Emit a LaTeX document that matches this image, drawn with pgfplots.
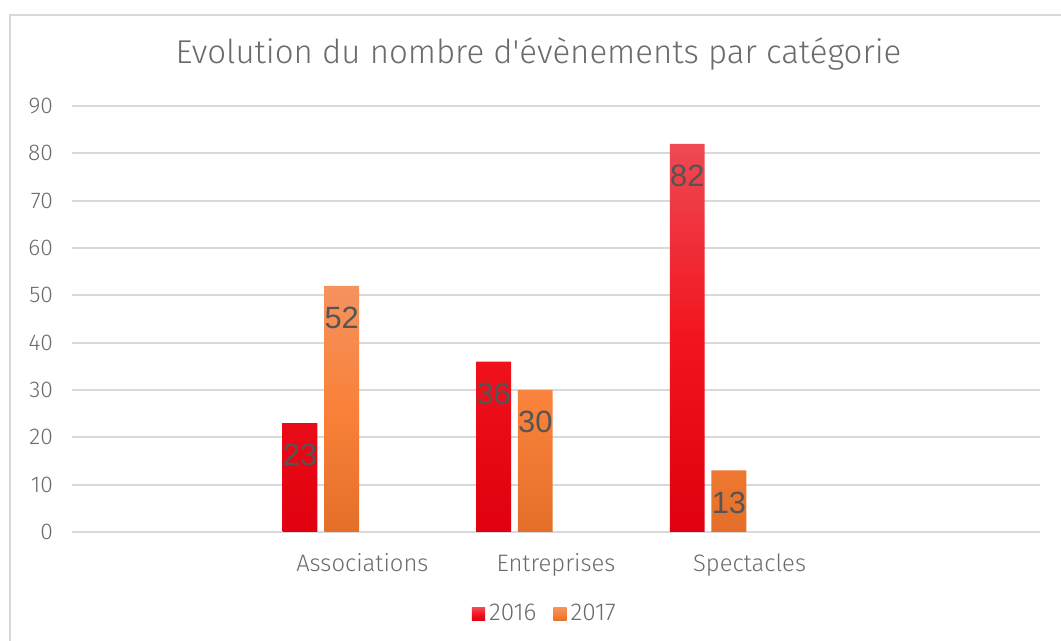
\documentclass[border=0pt]{standalone}
\usepackage{fontspec}
\setmainfont{Fira Sans Light}
\newfontfamily\labelfont{Liberation Sans}
\usepackage{pgfplots}
\pgfplotsset{compat=1.18}

\definecolor{txt}{HTML}{6B6B6B}
\definecolor{lbl}{HTML}{555555}
\definecolor{gridc}{HTML}{D9D9D9}
\definecolor{redtop}{HTML}{EE4A53}
\definecolor{redmid}{HTML}{F2141E}
\definecolor{redbot}{HTML}{E0000F}
\definecolor{ortop}{HTML}{F5925F}
\definecolor{ormid}{HTML}{F98139}
\definecolor{orbot}{HTML}{E46F2A}

\pgfplotsset{
  sq legend/.style={legend image code/.code={
    \path[##1] (0pt,-3.3pt) rectangle (6.6pt,3.3pt);}},
}

\begin{document}
\begin{tikzpicture}
\useasboundingbox (0,0) rectangle (530.5pt,320.5pt);
\draw[gridc, line width=0.8pt] (5pt,0pt) -- (5pt,313pt) -- (530.5pt,313pt);
\begin{axis}[
  at={(36pt,54.5pt)}, anchor=south west,
  scale only axis, width=484pt, height=213pt,
  ybar,
  xmin=-0.5, xmax=4.5, ymin=0, ymax=90,
  ytick={0,10,...,90},
  xtick={1,2,3}, xticklabels={Associations,Entreprises,Spectacles},
  axis line style={draw=none},
  major tick length=0pt,
  ymajorgrids, grid style={gridc, line width=1pt},
  /pgf/number format/assume math mode=true,
  tick label style={text=txt, font=\fontsize{11.4}{13}\selectfont},
  yticklabel style={xshift=-6pt},
  xticklabel style={yshift=-7.5pt, font=\fontsize{11.9}{14}\selectfont},
  title={Evolution du nombre d\textquotesingle évènements par catégorie},
  title style={at={(0.482,1.094)}, anchor=center, text=txt,
    font=\fontsize{16.5}{19}\selectfont},
  legend style={draw=none, at={(0.4895,-0.193)}, anchor=center,
    legend columns=2, font=\fontsize{12.2}{14}\selectfont, text=txt,
    /tikz/every odd column/.append style={column sep=0pt},
    /tikz/every even column/.append style={column sep=6.5pt}},
  nodes near coords,
  every node near coord/.append style={anchor=north, yshift=-7pt,
    text=lbl, font=\labelfont\fontsize{15.4}{18}\selectfont},
]
\addplot[bar width=0.18, bar shift=-0.322, draw=none,
  top color=redtop, bottom color=redbot, middle color=redmid, sq legend]
  coordinates {(1,23) (2,36) (3,82)};
\addplot[bar width=0.18, bar shift=-0.107, draw=none,
  top color=ortop, bottom color=orbot, middle color=ormid, sq legend]
  coordinates {(1,52) (2,30) (3,13)};
\legend{2016,2017}
\end{axis}
\end{tikzpicture}
\end{document}
